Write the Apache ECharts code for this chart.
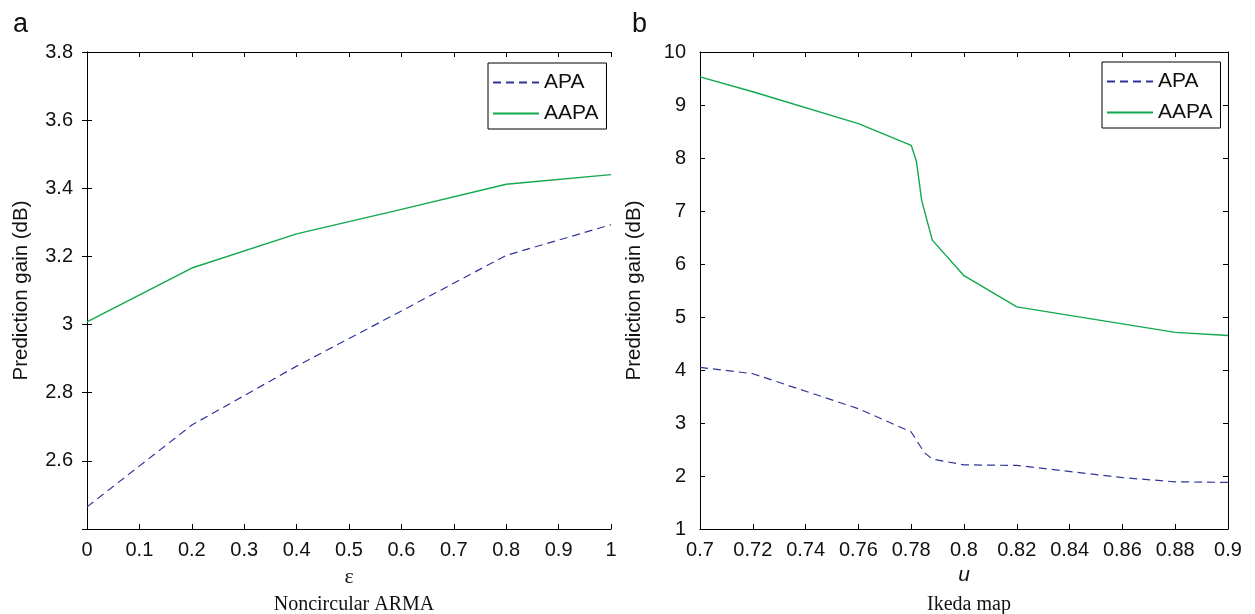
<!DOCTYPE html>
<html>
<head>
<meta charset="utf-8">
<script src="https://cdn.jsdelivr.net/npm/echarts@6/dist/echarts.min.js"></script>
<style>
  html, body { margin: 0; padding: 0; background: #fff; }
  #chart { width: 1255px; height: 614px; }
</style>
</head>
<body>
<div id="chart"></div>
<script>
// panel a: noncircular ARMA
var epsX = [0, 0.2, 0.4, 0.6, 0.8, 1.0];
var armaApa = [2.465, 2.705, 2.878, 3.04, 3.203, 3.293];
var armaAapa = [3.008, 3.166, 3.266, 3.338, 3.412, 3.44];

// panel b: Ikeda map
var ikedaApaX = [0.7, 0.72, 0.76, 0.78, 0.785, 0.788, 0.8, 0.82, 0.86, 0.88, 0.9];
var ikedaApa = [4.05, 3.93, 3.27, 2.83, 2.44, 2.32, 2.21, 2.2, 1.97, 1.89, 1.88];
var ikedaAapaX = [0.7, 0.72, 0.76, 0.78, 0.782, 0.784, 0.788, 0.8, 0.82, 0.86, 0.88, 0.9];
var ikedaAapa = [9.53, 9.25, 8.65, 8.24, 7.93, 7.19, 6.45, 5.78, 5.19, 4.87, 4.71, 4.65];

var APA_COLOR = '#30349a';
var AAPA_COLOR = '#11a84e';
var TXT = '#111';

function pairs(xs, ys) {
  return xs.map(function (x, i) { return [x, ys[i]]; });
}

function mainX(grid, min, max, step, name, italic) {
  return {
    type: 'value', gridIndex: grid, min: min, max: max, interval: step,
    position: 'bottom',
    name: name, nameLocation: 'middle', nameGap: italic ? 34 : 37,
    nameTextStyle: { color: TXT, fontSize: italic ? 21 : 22, fontFamily: italic ? 'Liberation Sans' : 'Liberation Serif', fontStyle: italic ? 'italic' : 'normal' },
    axisLine: { lineStyle: { color: '#000', width: 1 } },
    axisTick: { inside: true, length: 5, lineStyle: { color: '#000' } },
    axisLabel: { color: TXT, fontSize: 20, fontFamily: 'Liberation Sans', margin: 11 },
    splitLine: { show: false }
  };
}
function mirrorX(grid, min, max, step) {
  return {
    type: 'value', gridIndex: grid, min: min, max: max, interval: step,
    position: 'top',
    axisLine: { lineStyle: { color: '#000', width: 1 } },
    axisTick: { inside: true, length: 5, lineStyle: { color: '#000' } },
    axisLabel: { show: false }, splitLine: { show: false }
  };
}
function mainY(grid, min, max, step, hideMin) {
  return {
    type: 'value', gridIndex: grid, min: min, max: max, interval: step,
    position: 'left',
    name: 'Prediction gain (dB)', nameLocation: 'middle', nameGap: 55,
    nameTextStyle: { color: TXT, fontSize: 20.5, fontFamily: 'Liberation Sans' },
    axisLine: { lineStyle: { color: '#000', width: 1 } },
    axisTick: { inside: true, length: 5, lineStyle: { color: '#000' } },
    axisLabel: {
      color: TXT, fontSize: 20, fontFamily: 'Liberation Sans', margin: 14,
      formatter: function (v) { return (hideMin && Math.abs(v - min) < 1e-9) ? '' : String(+v.toFixed(2)); }
    },
    splitLine: { show: false }
  };
}
function mirrorY(grid, min, max, step) {
  return {
    type: 'value', gridIndex: grid, min: min, max: max, interval: step,
    position: 'right',
    axisLine: { lineStyle: { color: '#000', width: 1 } },
    axisTick: { inside: true, length: 5, lineStyle: { color: '#000' } },
    axisLabel: { show: false }, splitLine: { show: false }
  };
}
function apaSeries(xi, yi, data) {
  return {
    name: 'APA', type: 'line', xAxisIndex: xi, yAxisIndex: yi, data: data,
    symbol: 'none', color: APA_COLOR, animation: false,
    lineStyle: { color: APA_COLOR, width: 1.2, type: [8, 5] }
  };
}
function aapaSeries(xi, yi, data) {
  return {
    name: 'AAPA', type: 'line', xAxisIndex: xi, yAxisIndex: yi, data: data,
    symbol: 'none', color: AAPA_COLOR, animation: false,
    lineStyle: { color: AAPA_COLOR, width: 1.4 }
  };
}
function legendAt(left, top) {
  return {
    left: left, top: top, orient: 'vertical', data: ['APA', 'AAPA'],
    backgroundColor: '#fff', borderColor: '#000', borderWidth: 1, borderRadius: 0,
    padding: [9, 8, 5, 4], itemWidth: 46, itemHeight: 14, itemGap: 10,
    itemStyle: { opacity: 0 },
    textStyle: { color: TXT, fontSize: 21, lineHeight: 21, fontFamily: 'Liberation Sans' },
    selectedMode: false
  };
}

var chart = echarts.init(document.getElementById('chart'));
chart.setOption({
  backgroundColor: '#fff',
  animation: false,
  title: [
    { text: 'a', left: 8, top: 6, textStyle: { fontSize: 27, fontWeight: 'normal', color: TXT, fontFamily: 'Liberation Sans' } },
    { text: 'b', left: 627, top: 6, textStyle: { fontSize: 27, fontWeight: 'normal', color: TXT, fontFamily: 'Liberation Sans' } },
    { text: 'Noncircular ARMA', left: 349, top: 590, textAlign: 'center', textStyle: { fontSize: 20, fontWeight: 'normal', color: TXT, fontFamily: 'Liberation Serif' } },
    { text: 'Ikeda map', left: 964, top: 590, textAlign: 'center', textStyle: { fontSize: 20, fontWeight: 'normal', color: TXT, fontFamily: 'Liberation Serif' } }
  ],
  grid: [
    { left: 87, top: 52, width: 524, height: 477 },
    { left: 700, top: 52, width: 528, height: 477 }
  ],
  xAxis: [
    mainX(0, 0, 1, 0.1, 'ε', false),
    mirrorX(0, 0, 1, 0.1),
    mainX(1, 0.7, 0.9, 0.02, 'u', true),
    mirrorX(1, 0.7, 0.9, 0.02)
  ],
  yAxis: [
    mainY(0, 2.4, 3.8, 0.2, true),
    mirrorY(0, 2.4, 3.8, 0.2),
    mainY(1, 1, 10, 1, false),
    mirrorY(1, 1, 10, 1)
  ],
  legend: [legendAt(488, 63), legendAt(1102, 62)],
  series: [
    apaSeries(0, 0, pairs(epsX, armaApa)),
    aapaSeries(0, 0, pairs(epsX, armaAapa)),
    apaSeries(2, 2, pairs(ikedaApaX, ikedaApa)),
    aapaSeries(2, 2, pairs(ikedaAapaX, ikedaAapa))
  ]
});
</script>
</body>
</html>
